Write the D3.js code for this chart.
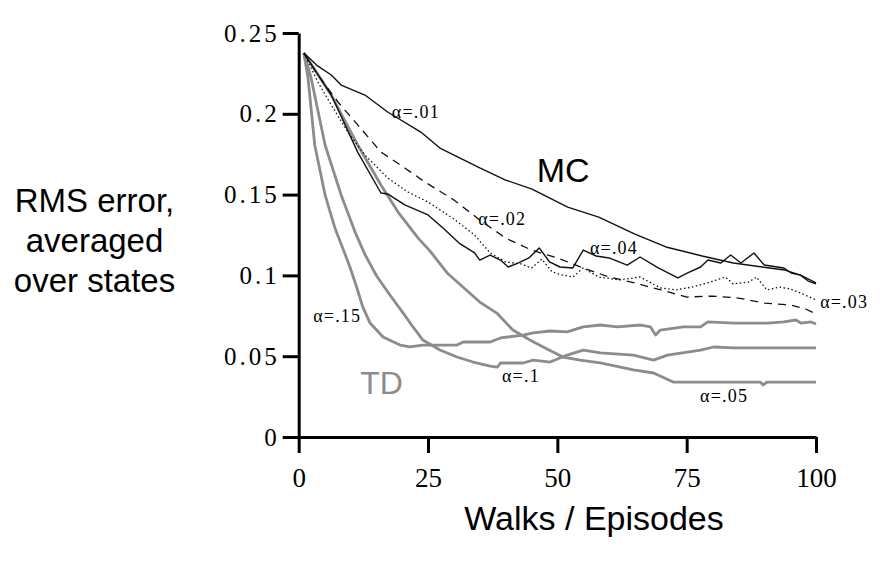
<!DOCTYPE html>
<html>
<head>
<meta charset="utf-8">
<script src="https://cdn.jsdelivr.net/npm/d3@7"></script>
<style>
  body { margin: 0; background: #fff; }
  svg { display: block; }
</style>
</head>
<body>
<svg id="chart" width="892" height="571"></svg>
<script>
// episodes / RMS error, one pair of arrays per curve
var mc01X = [1, 3.5, 6.3, 8.2, 12.8, 17.2, 23.6, 27.3, 35, 40, 45, 52, 58, 65, 71, 78, 84, 91, 94, 97, 100];
var mc01Y = [.2376, .2300, .2240, .2178, .2116, .2011, .1887, .1788, .1665, .1590, .1535, .1423, .1361, .1256, .1176, .1120, .1077, .1046, .1033, .1002, .0953];

var mc02X = [1, 3.7, 7.6, 11.4, 15.9, 20.5, 24.4, 30, 35, 40, 45, 50, 55, 60, 65, 70, 75, 80, 85, 90, 95, 98, 100];
var mc02Y = [.2376, .2240, .2073, .1931, .1764, .1665, .1578, .1467, .1343, .1231, .1157, .1108, .1046, .0990, .0953, .0910, .0866, .0872, .0860, .0829, .0817, .0792, .0761];

var mc03X = [1, 3.7, 6.3, 9.5, 12.8, 17.2, 21.1, 25, 30, 34, 37, 40, 43, 45, 47, 49, 51, 53, 55, 58, 62, 66, 70, 73, 76, 79, 82.5, 84, 87, 88.5, 90.5, 93, 95, 97, 100];
var mc03Y = [.2376, .2197, .2054, .1887, .1745, .1603, .1516, .1454, .1349, .1250, .1139, .1083, .1071, .1046, .1101, .1021, .1002, .0990, .1046, .0990, .0972, .0990, .0922, .0910, .0928, .0953, .0990, .0947, .0959, .0990, .0910, .0928, .0916, .0891, .0848];

var mc04X = [1, 6.3, 11.4, 15.9, 17.2, 20.5, 25, 28, 31, 34, 35, 37, 39, 40.5, 42.5, 44.5, 46.5, 48.5, 50.5, 53, 55, 57.5, 60, 63.5, 66, 69.5, 73.3, 75.2, 77.7, 79.1, 81.6, 83.5, 85.5, 88, 90, 93.8, 95.2, 97, 98.5, 100];
var mc04Y = [.2376, .2116, .1763, .1510, .1504, .1436, .1374, .1290, .1200, .1139, .1095, .1126, .1095, .1052, .1077, .1108, .1170, .1083, .1052, .1046, .1157, .1120, .1108, .1064, .1114, .1046, .0984, .1015, .1052, .1095, .1077, .1126, .1077, .1139, .1064, .1046, .1015, .1002, .0965, .0947];

var td05X = [1, 6.3, 11.4, 15.9, 19.2, 23.1, 25.4, 28.7, 35, 38.3, 41.4, 44.7, 48, 51.1, 54.4, 58.3, 64.7, 68.6, 72.4, 77.7, 84.1, 89.2, 89.8, 90.5, 100];
var td05Y = [.2376, .2116, .1807, .1559, .1392, .1231, .1150, .1015, .0835, .0767, .0662, .0600, .0545, .0495, .0476, .0458, .0415, .0396, .0340, .0340, .0340, .0340, .0322, .0340, .0340];

var td10X = [1, 2.4, 5.1, 8.2, 10.9, 12.8, 15.1, 17.6, 20.2, 22.1, 24, 27.3, 30.6, 33.7, 37, 38.4, 39, 43.4, 45.3, 48.6, 51.9, 55, 58.3, 64.7, 68.6, 71.3, 77.7, 80.2, 84.1, 100];
var td10Y = [.2376, .2222, .1807, .1498, .1268, .1130, .0995, .0880, .0767, .0681, .0600, .0538, .0495, .0464, .0439, .0433, .0458, .0458, .0476, .0464, .0507, .0538, .0520, .0507, .0476, .0507, .0538, .0557, .0551, .0551];

var td15X = [1, 1.8, 3.1, 5.1, 7, 8.5, 9.9, 11.2, 12.4, 13.8, 16.3, 19.6, 21.5, 24, 30.6, 31.8, 37, 39, 43.4, 45.3, 48.6, 51.9, 55, 58.3, 61.6, 66.1, 68, 69, 69.9, 74.4, 77.7, 79.1, 84.1, 90.7, 93.8, 96.1, 97.1, 99, 100];
var td15Y = [.2376, .2222, .1807, .1498, .1293, .1170, .1052, .0928, .0804, .0705, .0619, .0569, .0557, .0569, .0569, .0588, .0588, .0613, .0631, .0644, .0656, .0650, .0681, .0693, .0681, .0693, .0681, .0631, .0662, .0681, .0681, .0712, .0705, .0705, .0712, .0724, .0705, .0712, .0699];

var xTicks = [0, 25, 50, 75, 100];
var yTicks = [0, 0.05, 0.1, 0.15, 0.2, 0.25];
var yTickLabels = ["0", "0.05", "0.1", "0.15", "0.2", "0.25"];

// curve labels: text, episode, value (where the text sits)
var curveLabels = [
  ["\u03b1=.01", 18.0, .1974],
  ["\u03b1=.02", 34.7, .1312],
  ["\u03b1=.04", 56.3, .1132],
  ["\u03b1=.03", 100.8, .0798],
  ["\u03b1=.05", 77.6, .0217],
  ["\u03b1=.1", 39.3, .0340],
  ["\u03b1=.15", 2.8, .0712]
];

var svg = d3.select("#chart");

var x = d3.scaleLinear().domain([0, 100]).range([298.7, 816]);
var y = d3.scaleLinear().domain([0, 0.25]).range([437, 33]);

var GRAY = "#8c8c8c";
var serif = "'Liberation Serif', 'Times New Roman', serif";
var sans = "'Liberation Sans', Arial, Helvetica, sans-serif";

function zipSeries(xs, ys) {
  return xs.map(function(d, i) { return [d, ys[i]]; });
}

var line = d3.line()
  .x(function(d) { return x(d[0]); })
  .y(function(d) { return y(d[1]); });

var series = [
  {data: zipSeries(td05X, td05Y), color: GRAY, width: 2.8, dash: null},
  {data: zipSeries(td10X, td10Y), color: GRAY, width: 2.8, dash: null},
  {data: zipSeries(td15X, td15Y), color: GRAY, width: 2.8, dash: null},
  {data: zipSeries(mc01X, mc01Y), color: "#111", width: 1.4, dash: null},
  {data: zipSeries(mc02X, mc02Y), color: "#111", width: 1.3, dash: "8,6"},
  {data: zipSeries(mc03X, mc03Y), color: "#111", width: 1.3, dash: "1.5,2.5"},
  {data: zipSeries(mc04X, mc04Y), color: "#111", width: 1.4, dash: null}
];

svg.selectAll("path.curve")
  .data(series)
  .enter()
  .append("path")
  .attr("class", "curve")
  .attr("d", function(d) { return line(d.data); })
  .attr("fill", "none")
  .attr("stroke", function(d) { return d.color; })
  .attr("stroke-width", function(d) { return d.width; })
  .attr("stroke-dasharray", function(d) { return d.dash; })
  .attr("stroke-linejoin", "round");

// axes
var xAxis = d3.axisBottom(x)
  .tickValues(xTicks)
  .tickSize(16)
  .tickSizeOuter(0)
  .tickPadding(15)
  .tickFormat(d3.format("d"));

var yAxis = d3.axisLeft(y)
  .tickValues(yTicks)
  .tickSize(16)
  .tickSizeOuter(0)
  .tickPadding(3)
  .tickFormat(function(d, i) { return yTickLabels[i]; });

var gx = svg.append("g")
  .attr("transform", "translate(0," + y(0) + ")")
  .call(xAxis);

var gy = svg.append("g")
  .attr("transform", "translate(" + x(0) + ",0)")
  .call(yAxis);

[gx, gy].forEach(function(g) {
  g.select(".domain").attr("stroke", "#000").attr("stroke-width", 3);
  g.selectAll(".tick line").attr("stroke", "#000").attr("stroke-width", 3);
});

gx.selectAll(".tick text")
  .attr("font-family", serif)
  .attr("font-size", 27)
  .attr("fill", "#000");

gy.selectAll(".tick text")
  .attr("font-family", serif)
  .attr("font-size", 25)
  .attr("letter-spacing", 3)
  .attr("fill", "#000");

// curve labels
svg.selectAll("text.alpha")
  .data(curveLabels)
  .enter()
  .append("text")
  .attr("class", "alpha")
  .attr("x", function(d) { return x(d[1]); })
  .attr("y", function(d) { return y(d[2]); })
  .attr("font-family", serif)
  .attr("font-size", 18)
  .attr("letter-spacing", 1.2)
  .attr("fill", "#000")
  .text(function(d) { return d[0]; });

svg.append("text")
  .attr("x", x(46))
  .attr("y", y(.1578))
  .attr("font-family", sans)
  .attr("font-size", 34)
  .attr("fill", "#000")
  .text("MC");

svg.append("text")
  .attr("x", x(11.9))
  .attr("y", y(.0266))
  .attr("font-family", sans)
  .attr("font-size", 32)
  .attr("fill", GRAY)
  .text("TD");

// axis titles
var yTitle = ["RMS error,", "averaged", "over states"];
svg.append("text")
  .attr("font-family", sans)
  .attr("font-size", 33)
  .attr("text-anchor", "middle")
  .attr("fill", "#000")
  .selectAll("tspan")
  .data(yTitle)
  .enter()
  .append("tspan")
  .attr("x", 94.5)
  .attr("y", function(d, i) { return 212 + i * 40; })
  .text(function(d) { return d; });

svg.append("text")
  .attr("x", 594)
  .attr("y", 530)
  .attr("font-family", sans)
  .attr("font-size", 34)
  .attr("text-anchor", "middle")
  .attr("fill", "#000")
  .text("Walks / Episodes");
</script>
</body>
</html>
